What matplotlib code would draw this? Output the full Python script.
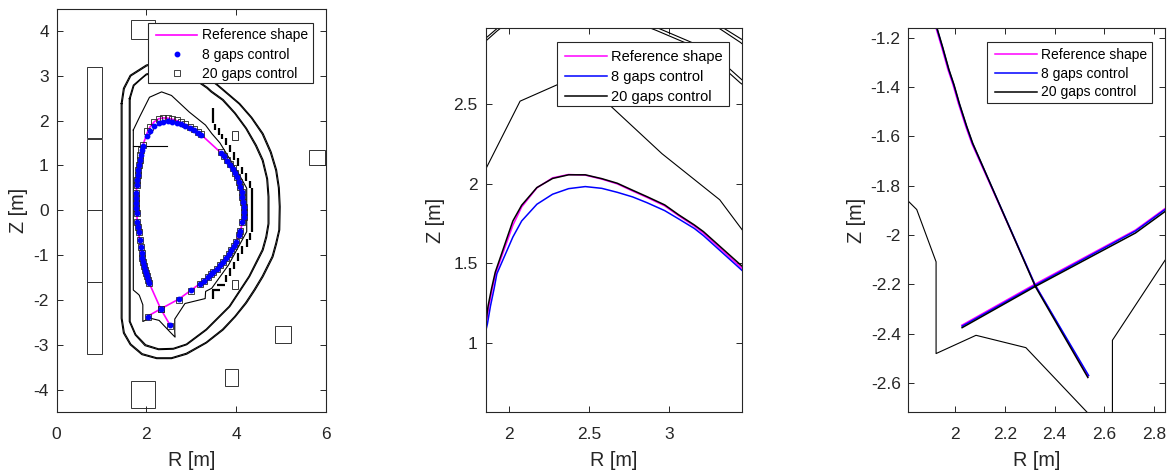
import numpy as np
import matplotlib
matplotlib.use('Agg')
import matplotlib.pyplot as plt
from matplotlib.patches import Rectangle

plt.rcParams['font.family'] = ['Liberation Sans', 'DejaVu Sans']
plt.rcParams['axes.unicode_minus'] = False

# vessel walls, two skins each
parede_ext1_r = [1.44, 1.49, 1.64, 2.00, 2.50, 3.00, 3.34, 3.46, 3.60, 4.08, 4.35, 4.60, 4.78, 4.90, 4.96, 4.98, 4.97, 4.90, 4.82, 4.60, 4.42, 4.23, 3.98, 3.71, 3.34, 2.90, 2.56, 2.23, 1.90, 1.64, 1.49, 1.44, 1.44]
parede_ext1_z = [2.38, 2.72, 3.01, 3.24, 3.36, 3.19, 2.98, 2.905, 2.79, 2.38, 2.07, 1.71, 1.30, 0.90, 0.50, 0.08, -0.44, -0.75, -1.04, -1.48, -1.78, -2.07, -2.38, -2.67, -2.96, -3.21, -3.31, -3.31, -3.22, -3.00, -2.74, -2.41, 2.38]
parede_ext2_r = [1.46, 1.51, 1.655, 2.01, 2.50, 2.99, 3.325, 3.445, 3.585, 4.065, 4.335, 4.58, 4.76, 4.88, 4.94, 4.96, 4.95, 4.88, 4.80, 4.58, 4.40, 4.21, 3.965, 3.695, 3.33, 2.89, 2.56, 2.23, 1.91, 1.655, 1.51, 1.46, 1.46]
parede_ext2_z = [2.38, 2.71, 2.995, 3.22, 3.34, 3.18, 2.97, 2.89, 2.78, 2.37, 2.06, 1.70, 1.29, 0.89, 0.50, 0.08, -0.44, -0.74, -1.03, -1.47, -1.77, -2.06, -2.37, -2.655, -2.945, -3.19, -3.29, -3.29, -3.20, -2.985, -2.73, -2.41, 2.38]
parede_int1_r = [1.62, 1.71, 1.93, 2.00, 2.50, 2.93, 3.14, 3.36, 3.46, 3.71, 3.98, 4.23, 4.45, 4.60, 4.70, 4.73, 4.73, 4.68, 4.60, 4.30, 3.86, 3.34, 2.90, 2.60, 2.27, 1.97, 1.75, 1.62, 1.62]
parede_int1_z = [2.49, 2.79, 2.98, 3.04, 3.15, 2.98, 2.89, 2.74, 2.65, 2.47, 2.17, 1.83, 1.45, 1.12, 0.70, 0.30, -0.30, -0.60, -0.89, -1.48, -2.15, -2.67, -3.00, -3.10, -3.11, -3.02, -2.78, -2.48, 2.49]
parede_int2_r = [1.64, 1.725, 1.925, 2.00, 2.50, 2.92, 3.13, 3.345, 3.445, 3.695, 3.965, 4.215, 4.43, 4.58, 4.68, 4.71, 4.71, 4.66, 4.58, 4.285, 3.845, 3.33, 2.89, 2.60, 2.27, 1.985, 1.765, 1.64, 1.64]
parede_int2_z = [2.49, 2.78, 2.96, 3.02, 3.13, 2.965, 2.875, 2.725, 2.635, 2.455, 2.16, 1.82, 1.44, 1.11, 0.70, 0.30, -0.30, -0.59, -0.88, -1.47, -2.14, -2.655, -2.985, -3.08, -3.09, -3.00, -2.77, -2.48, 2.49]

# first wall (thin line)
limiter_r = [1.71, 1.854, 2.07, 2.34, 2.56, 2.956, 3.317, 3.458, 3.64, 4.05, 4.235, 4.235, 3.83, 3.456, 3.32, 3.31, 2.86, 2.633, 2.633, 2.64, 2.53, 2.284, 2.083, 1.922, 1.922, 1.844, 1.81, 1.71, 1.71]
limiter_z = [1.79, 2.09, 2.52, 2.64, 2.56, 2.19, 1.90, 1.71, 1.50, 0.824, 0.49, -0.477, -1.22, -1.74, -1.81, -1.97, -2.08, -2.427, -2.718, -2.83, -2.718, -2.457, -2.407, -2.481, -2.109, -1.897, -1.863, -1.78, 1.79]
linha_r = [1.71, 2.45]
linha_z = [1.44, 1.44]

# coils: R min, R max, Z min, Z max
bobina_rmin = [0.674, 0.674, 0.674, 0.674, 1.65, 5.63, 4.86, 3.755, 1.65, 3.90, 3.90]
bobina_rmax = [1.007, 1.007, 1.007, 1.007, 2.19, 5.97, 5.22, 4.05, 2.19, 4.05, 4.05]
bobina_zmin = [1.605, 0.005, -1.595, -3.20, 3.81, 1.00, -2.97, -3.92, -4.42, 1.565, -1.76]
bobina_zmax = [3.19, 1.595, -0.005, -1.605, 4.24, 1.336, -2.59, -3.53, -3.81, 1.77, -1.55]

# thick tile segments on the outboard side
telha_r1 = [3.486, 3.53, 3.62, 3.69, 3.775, 3.864, 3.953, 4.035, 4.13, 4.22, 4.316, 4.36, 4.316, 4.235, 4.13, 4.035, 3.953, 3.857, 3.775, 3.57, 3.46, 3.486]
telha_r2 = [3.486, 3.53, 3.62, 3.69, 3.775, 3.864, 3.953, 4.035, 4.13, 4.22, 4.316, 4.36, 4.316, 4.235, 4.13, 4.035, 3.953, 3.857, 3.775, 3.75, 3.64, 3.486]
telha_z1 = [2.285, 1.915, 1.83, 1.71, 1.62, 1.455, 1.29, 1.16, 0.97, 0.824, 0.66, 0.49, -0.50, -0.645, -0.795, -0.96, -1.145, -1.29, -1.44, -1.66, -1.775, -1.775]
telha_z2 = [1.94, 1.80, 1.68, 1.58, 1.455, 1.29, 1.12, 0.987, 0.80, 0.65, 0.49, -0.48, -0.66, -0.81, -0.97, -1.13, -1.31, -1.46, -1.60, -1.66, -1.775, -1.975]

# plasma boundaries, same path for the three: leg, X point, around, X point, leg
ref_r = [2.534, 2.320, 2.066, 2.042, 2.012, 1.990, 1.970, 1.945, 1.922, 1.905, 1.890, 1.870, 1.850, 1.826, 1.813, 1.800, 1.786, 1.778, 1.778, 1.778, 1.778, 1.786, 1.796, 1.808, 1.822, 1.837, 1.858, 1.875, 1.897, 1.920, 2.025, 2.080, 2.175, 2.273, 2.373, 2.477, 2.580, 2.677, 2.773, 2.862, 2.973, 3.060, 3.158, 3.215, 3.659, 3.726, 3.800, 3.859, 3.919, 3.970, 4.022, 4.059, 4.096, 4.119, 4.140, 4.163, 4.170, 4.178, 4.178, 4.140, 4.096, 4.059, 4.007, 3.948, 3.896, 3.837, 3.763, 3.711, 3.637, 3.563, 3.490, 3.430, 3.363, 3.280, 3.193, 2.993, 2.726, 2.320, 2.026]
ref_z = [-2.573, -2.200, -1.629, -1.561, -1.467, -1.390, -1.330, -1.240, -1.162, -1.060, -0.960, -0.815, -0.667, -0.480, -0.370, -0.260, -0.070, 0.045, 0.156, 0.267, 0.379, 0.563, 0.675, 0.786, 0.900, 1.009, 1.120, 1.232, 1.343, 1.445, 1.740, 1.855, 1.975, 2.038, 2.059, 2.055, 2.030, 2.000, 1.955, 1.915, 1.862, 1.800, 1.735, 1.690, 1.284, 1.210, 1.106, 1.024, 0.935, 0.839, 0.750, 0.638, 0.527, 0.416, 0.304, 0.193, 0.082, -0.030, -0.140, -0.259, -0.459, -0.556, -0.704, -0.800, -0.889, -0.978, -1.074, -1.148, -1.222, -1.311, -1.378, -1.422, -1.496, -1.570, -1.637, -1.785, -1.980, -2.200, -2.366]

gaps8_r = [2.537, 2.322, 2.069, 2.045, 2.015, 1.993, 1.973, 1.948, 1.925, 1.908, 1.893, 1.873, 1.853, 1.829, 1.816, 1.803, 1.789, 1.781, 1.781, 1.781, 1.781, 1.789, 1.799, 1.811, 1.825, 1.840, 1.866, 1.885, 1.908, 1.925, 2.025, 2.080, 2.175, 2.273, 2.373, 2.477, 2.580, 2.677, 2.773, 2.862, 2.973, 3.060, 3.158, 3.215, 3.659, 3.726, 3.800, 3.859, 3.919, 3.970, 4.022, 4.059, 4.096, 4.119, 4.140, 4.163, 4.170, 4.178, 4.178, 4.140, 4.096, 4.059, 4.007, 3.948, 3.896, 3.837, 3.763, 3.711, 3.637, 3.563, 3.490, 3.430, 3.363, 3.280, 3.193, 2.993, 2.726, 2.322, 2.027]
gaps8_z = [-2.570, -2.204, -1.629, -1.561, -1.467, -1.390, -1.330, -1.240, -1.162, -1.060, -0.960, -0.815, -0.667, -0.480, -0.370, -0.260, -0.070, 0.045, 0.156, 0.267, 0.379, 0.563, 0.675, 0.786, 0.900, 1.009, 1.120, 1.232, 1.343, 1.435, 1.666, 1.767, 1.872, 1.935, 1.970, 1.983, 1.972, 1.947, 1.918, 1.882, 1.832, 1.780, 1.720, 1.675, 1.272, 1.200, 1.100, 1.020, 0.930, 0.835, 0.745, 0.635, 0.525, 0.415, 0.304, 0.193, 0.082, -0.030, -0.140, -0.259, -0.459, -0.556, -0.704, -0.800, -0.889, -0.978, -1.074, -1.148, -1.222, -1.311, -1.378, -1.422, -1.496, -1.570, -1.637, -1.789, -1.984, -2.204, -2.370]

gaps20_r = [2.534, 2.322, 2.070, 2.046, 2.016, 1.994, 1.974, 1.949, 1.926, 1.909, 1.894, 1.873, 1.852, 1.828, 1.815, 1.802, 1.788, 1.780, 1.780, 1.780, 1.780, 1.788, 1.798, 1.810, 1.824, 1.839, 1.855, 1.870, 1.892, 1.915, 2.025, 2.080, 2.175, 2.273, 2.373, 2.477, 2.580, 2.677, 2.773, 2.862, 2.973, 3.060, 3.158, 3.215, 3.659, 3.726, 3.800, 3.859, 3.919, 3.970, 4.022, 4.059, 4.096, 4.119, 4.140, 4.163, 4.170, 4.178, 4.178, 4.140, 4.096, 4.059, 4.007, 3.948, 3.896, 3.837, 3.763, 3.711, 3.637, 3.563, 3.490, 3.430, 3.363, 3.280, 3.193, 2.993, 2.726, 2.322, 2.027]
gaps20_z = [-2.578, -2.209, -1.629, -1.561, -1.467, -1.390, -1.330, -1.240, -1.162, -1.060, -0.960, -0.815, -0.667, -0.480, -0.370, -0.260, -0.070, 0.045, 0.156, 0.267, 0.379, 0.563, 0.675, 0.786, 0.900, 1.009, 1.120, 1.232, 1.343, 1.445, 1.767, 1.866, 1.977, 2.034, 2.057, 2.057, 2.033, 2.004, 1.960, 1.920, 1.868, 1.806, 1.742, 1.700, 1.300, 1.215, 1.110, 1.026, 0.937, 0.840, 0.750, 0.638, 0.527, 0.416, 0.304, 0.193, 0.082, -0.030, -0.140, -0.259, -0.459, -0.556, -0.704, -0.800, -0.889, -0.978, -1.074, -1.148, -1.222, -1.311, -1.378, -1.422, -1.496, -1.570, -1.637, -1.797, -1.992, -2.209, -2.376]

legendas = ['Reference shape', '8 gaps control', '20 gaps control']

largura, altura = 1173, 471
cor_eixo = '#262626'


def criar_eixo(x0, x1, y0, y1):
    # pixel box of the axes -> figure fractions
    ax = fig.add_axes([x0 / largura, 1 - y1 / altura, (x1 - x0) / largura, (y1 - y0) / altura])
    for lado in ax.spines.values():
        lado.set_color(cor_eixo)
        lado.set_linewidth(0.8)
    ax.tick_params(direction='in', top=True, right=True, length=4, width=0.7,
                   color=cor_eixo, labelcolor=cor_eixo, labelsize=12.5)
    ax.tick_params(axis='x', pad=10.5)
    ax.tick_params(axis='y', pad=5.5)
    return ax


def desenhar_maquina(ax):
    for r, z in [(parede_ext1_r, parede_ext1_z), (parede_ext2_r, parede_ext2_z),
                 (parede_int1_r, parede_int1_z), (parede_int2_r, parede_int2_z),
                 (limiter_r, limiter_z)]:
        ax.plot(r, z, color='k', lw=0.8)
    for i in range(len(bobina_rmin)):
        ax.add_patch(Rectangle((bobina_rmin[i], bobina_zmin[i]),
                               bobina_rmax[i] - bobina_rmin[i],
                               bobina_zmax[i] - bobina_zmin[i],
                               fill=False, edgecolor='#333333', lw=0.7))
    for i in range(len(telha_r1)):
        ax.plot([telha_r1[i], telha_r2[i]], [telha_z1[i], telha_z2[i]],
                color='k', lw=1.6, solid_capstyle='butt')


def colocar_legenda(ax, linhas, caixa, x_linha, y_linha, passo, fonte):
    # caixa = left, top, right, bottom of the box in pixels
    ax.add_patch(Rectangle((caixa[0] / largura, 1 - caixa[3] / altura),
                           (caixa[2] - caixa[0]) / largura, (caixa[3] - caixa[1]) / altura,
                           transform=fig.transFigure, facecolor='w', edgecolor=cor_eixo,
                           lw=0.8, clip_on=False, zorder=9))
    fonte_px = fonte * 100 / 72
    leg = ax.legend(linhas, legendas, loc='upper left',
                    bbox_to_anchor=(x_linha / largura, 1 - (y_linha - 6.5) / altura),
                    bbox_transform=fig.transFigure, borderaxespad=0, borderpad=0,
                    fontsize=fonte, frameon=False, handlelength=41.3 / fonte_px,
                    handletextpad=4.3 / fonte_px, labelspacing=(passo - fonte_px) / fonte_px)
    for texto in leg.get_texts():
        texto.set_color('k')
    leg.set_zorder(10)


fig = plt.figure(figsize=(largura / 100, altura / 100), dpi=100)

# left panel: whole machine
ax1 = criar_eixo(56.5, 326, 8.5, 412)
desenhar_maquina(ax1)
ax1.plot(linha_r, linha_z, color='k', lw=0.8)
l1, = ax1.plot(ref_r, ref_z, color='#ff00ff', lw=1.2)
l3, = ax1.plot(gaps20_r, gaps20_z, ls='none', marker='s', ms=4.0, mfc='none', mec='#222222', mew=0.6, zorder=3)
l2, = ax1.plot(gaps8_r, gaps8_z, ls='none', marker='o', ms=3.2, mfc='#0000ff', mec='#0000ff', zorder=4)
ax1.set_xlim(0, 6)
ax1.set_ylim(-4.5, 4.5)
ax1.set_xticks([0, 2, 4, 6])
ax1.set_yticks([-4, -3, -2, -1, 0, 1, 2, 3, 4])
ax1.set_xlabel('R [m]', fontsize=14.3, color=cor_eixo, labelpad=7)
ax1.set_ylabel('Z [m]', fontsize=14.3, color=cor_eixo, labelpad=4)
colocar_legenda(ax1, [l1, l2, l3], (147.7, 22.7, 313, 83), 156, 35, 18.9, 10)

# middle panel: zoom on the top
ax2 = criar_eixo(485.5, 742, 28.3, 412)
desenhar_maquina(ax2)
l1, = ax2.plot(ref_r, ref_z, color='#ff00ff', lw=1.1)
l2, = ax2.plot(gaps8_r, gaps8_z, color='#0000ff', lw=1.1)
l3, = ax2.plot(gaps20_r, gaps20_z, color='k', lw=1.1)
ax2.set_xlim(1.854, 3.456)
ax2.set_ylim(0.566, 2.978)
ax2.set_xticks([2, 2.5, 3])
ax2.set_xticklabels(['2', '2.5', '3'])
ax2.set_yticks([1, 1.5, 2, 2.5])
ax2.set_yticklabels(['1', '1.5', '2', '2.5'])
ax2.set_xlabel('R [m]', fontsize=14.3, color=cor_eixo, labelpad=7)
ax2.set_ylabel('Z [m]', fontsize=14.3, color=cor_eixo, labelpad=6)
colocar_legenda(ax2, [l1, l2, l3], (556.7, 42.3, 728.7, 105.7), 565.3, 56.5, 20.5, 10.5)

# right panel: zoom on the X point
ax3 = criar_eixo(908.3, 1165, 28.3, 412)
desenhar_maquina(ax3)
l1, = ax3.plot(ref_r, ref_z, color='#ff00ff', lw=1.1)
l2, = ax3.plot(gaps8_r, gaps8_z, color='#0000ff', lw=1.1)
l3, = ax3.plot(gaps20_r, gaps20_z, color='k', lw=1.1)
ax3.set_xlim(1.81, 2.845)
ax3.set_ylim(-2.718, -1.162)
ax3.set_xticks([2, 2.2, 2.4, 2.6, 2.8])
ax3.set_xticklabels(['2', '2.2', '2.4', '2.6', '2.8'])
ax3.set_yticks([-2.6, -2.4, -2.2, -2, -1.8, -1.6, -1.4, -1.2])
ax3.set_yticklabels(['-2.6', '-2.4', '-2.2', '-2', '-1.8', '-1.6', '-1.4', '-1.2'])
ax3.set_xlabel('R [m]', fontsize=14.3, color=cor_eixo, labelpad=7)
ax3.set_ylabel('Z [m]', fontsize=14.3, color=cor_eixo, labelpad=3)
colocar_legenda(ax3, [l1, l2, l3], (986.7, 42.3, 1152, 103), 995.3, 54.3, 18.7, 10)

fig.savefig('out.png', dpi=100)
